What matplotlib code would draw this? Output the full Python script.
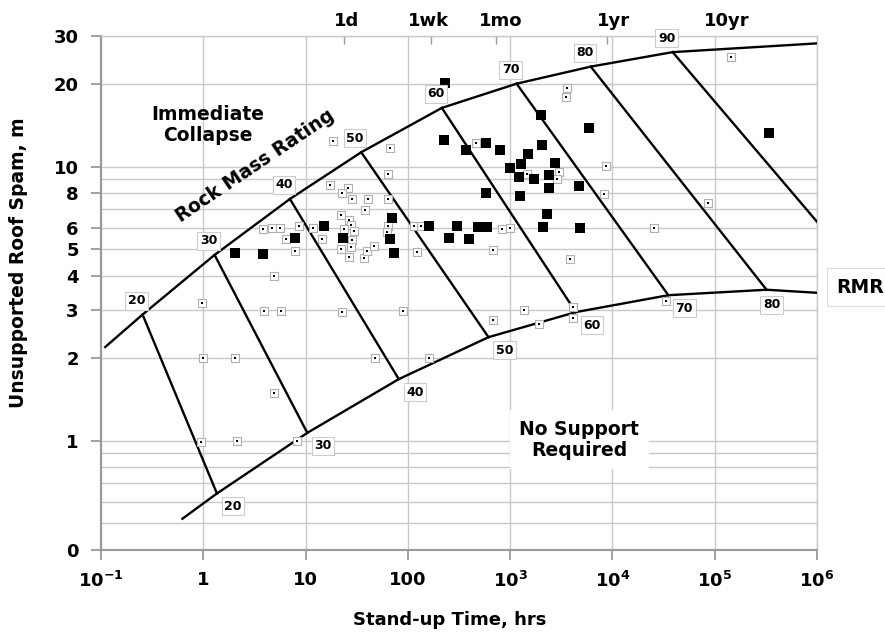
import matplotlib
matplotlib.use("Agg")
import matplotlib.pyplot as plt
from matplotlib.ticker import FixedLocator, NullFormatter, NullLocator

plt.rcParams['font.family'] = ['DejaVu Sans']
plt.rcParams['font.weight'] = 'bold'
plt.rcParams['axes.labelweight'] = 'bold'
plt.rcParams['mathtext.fontset'] = 'custom'
plt.rcParams['mathtext.rm'] = 'DejaVu Sans:bold'
plt.rcParams['mathtext.it'] = 'DejaVu Sans:bold'
plt.rcParams['mathtext.bf'] = 'DejaVu Sans:bold'

# --- data ---
rmr_values = [20, 30, 40, 50, 60, 70, 80, 90]
top_x = [0.255, 1.29, 7.03, 35, 215, 1156, 6140, 38800]
top_y = [2.89, 4.77, 7.63, 11.3, 16.4, 20.1, 23.2, 26.2]
bottom_x = [1.36, 10.4, 81.5, 614, 4385, 35200, 321000, 1e6]
bottom_y = [0.643, 1.07, 1.68, 2.39, 2.95, 3.40, 3.56, 6.3]   # 90 line runs out at the right edge

upper_x = [0.11] + top_x + [1e6]
upper_y = [2.2] + top_y + [28.2]
lower_x = [0.625] + bottom_x[:7] + [1e6]
lower_y = [0.52] + bottom_y[:7] + [3.47]

big_x = [229, 227, 577, 369, 791, 1982, 5865, 2046, 1503, 2735, 1276, 988, 1218,
         1710, 2395, 2410, 4755, 586, 1240, 2300, 2105, 4790, 160, 299, 480, 596,
         254, 392, 15.1, 7.8, 23.1, 2.05, 3.84, 69.7, 67.6, 73, 340000]
big_y = [20.3, 12.5, 12.2, 11.5, 11.5, 15.4, 13.9, 11.96, 11.1, 10.3, 10.2, 9.9, 9.15,
         9.0, 9.3, 8.34, 8.48, 8.02, 7.8, 6.75, 6.02, 6.0, 6.1, 6.1, 6.05, 6.02,
         5.52, 5.47, 6.1, 5.49, 5.49, 4.86, 4.81, 6.49, 5.44, 4.85, 13.3]

small_x = [18.7, 66.7, 64, 17.2, 26.2, 22.5, 28.2, 41, 63.7, 37.8, 22.2, 26.6, 28,
           23.8, 29.5, 28.2, 22.4, 27.6, 26.7, 37.3, 40.1, 46.9, 3.8, 4.7, 5.62, 8.67,
           11.9, 6.43, 14.6, 7.93, 4.87, 64, 62.7, 114, 135, 123, 0.97, 3.95, 5.75,
           22.9, 89.8, 1.0, 2.06, 4.94, 47.3, 160, 0.96, 2.12, 8.2, 686, 1374, 1923,
           4120, 4120, 33400, 143500, 3630, 3520, 466, 8590, 8200, 85000, 25500,
           2995, 2900, 1469, 840, 997, 683, 3830]
small_y = [12.4, 11.7, 9.38, 8.55, 8.37, 8.0, 7.65, 7.65, 7.65, 6.94, 6.69, 6.38, 6.14,
           5.94, 5.85, 5.41, 5.03, 5.08, 4.67, 4.64, 4.94, 5.12, 5.94, 5.97, 5.97, 6.09,
           5.97, 5.47, 5.47, 4.92, 3.98, 6.1, 5.8, 6.1, 6.1, 4.88, 3.18, 2.97, 2.97,
           2.95, 2.99, 2.0, 2.0, 1.49, 2.0, 2.0, 0.99, 1.0, 1.0, 2.77, 3.01, 2.67,
           2.81, 3.07, 3.23, 25.1, 19.4, 18.0, 12.2, 10.1, 7.96, 7.4, 6.0,
           9.59, 8.99, 9.45, 5.92, 6.0, 4.98, 4.6]

x_ticks = [0.1, 1, 10, 100, 1e3, 1e4, 1e5, 1e6]
x_labels = [r'$10^{-1}$', '1', '10', '100', r'$10^{3}$', r'$10^{4}$', r'$10^{5}$', r'$10^{6}$']
y_ticks = [0.4, 1, 2, 3, 4, 5, 6, 8, 10, 20, 30]
y_labels = ['0', '1', '2', '3', '4', '5', '6', '8', '10', '20', '30']
y_grid_minor = [0.5, 0.6, 0.7, 0.8, 0.9, 7, 9]
time_ticks = [24, 168, 720, 8760, 87600]
time_labels = ['1d', '1wk', '1mo', '1yr', '10yr']

fig = plt.figure(figsize=(8.85, 6.35), dpi=100, facecolor='w')
ax = fig.add_axes([0.1141, 0.1339, 0.8091, 0.8094])
ax.set_xscale('log')
ax.set_yscale('log')
ax.set_xlim(0.1, 1e6)
ax.set_ylim(0.4, 30)

grid_c = '#c8c8c8'
ax.xaxis.set_major_locator(FixedLocator(x_ticks))
ax.xaxis.set_minor_locator(NullLocator())
ax.set_xticklabels(x_labels)
ax.yaxis.set_major_locator(FixedLocator(y_ticks))
ax.yaxis.set_minor_locator(FixedLocator(y_grid_minor))
ax.yaxis.set_minor_formatter(NullFormatter())
ax.set_yticklabels(y_labels)
ax.grid(True, which='major', color=grid_c, lw=1)
ax.grid(True, which='minor', axis='y', color=grid_c, lw=1)
ax.tick_params(axis='both', which='major', labelsize=13, length=7, width=1.3,
               color='#999999', direction='out')
ax.tick_params(axis='x', pad=8)
ax.tick_params(axis='y', pad=9)
ax.tick_params(axis='y', which='minor', length=0)
for side in ['left', 'bottom']:
    ax.spines[side].set_color('#999999')
    ax.spines[side].set_linewidth(1.5)
for side in ['top', 'right']:
    ax.spines[side].set_color(grid_c)
    ax.spines[side].set_linewidth(1)

ax.set_xlabel('Stand-up Time, hrs', fontsize=13)
ax.set_ylabel('Unsupported Roof Spam, m', fontsize=13.5)
ax.xaxis.set_label_coords(0.487, -0.119)
ax.yaxis.set_label_coords(-0.102, 0.558)

# top axis: small inward marks, labels sit a little right of them
top = ax.secondary_xaxis('top')
top.set_xticks(time_ticks[:4])
top.xaxis.set_minor_locator(NullLocator())
top.tick_params(direction='in', length=6, width=1, color='#999999', labelsize=0)
top.set_xticklabels([])
top.spines['top'].set_visible(False)
label_shift = [2, -2, 5, 7, 18]
for t, lab, dx in zip(time_ticks, time_labels, label_shift):
    ax.annotate(lab, (t, 1.0), xycoords=('data', 'axes fraction'), xytext=(dx, 15),
                textcoords='offset pixels', ha='center', va='center', fontsize=13)

# boundary curves and RMR lines
ax.plot(upper_x, upper_y, color='black', lw=1.7, zorder=3)
ax.plot(lower_x, lower_y, color='black', lw=1.7, zorder=3)
for i, r in enumerate(rmr_values):
    ax.plot([top_x[i], bottom_x[i]], [top_y[i], bottom_y[i]], color='black', lw=1.7, zorder=3)

box = dict(boxstyle='square,pad=0.2', fc='white', ec='#cccccc', lw=0.8)
for i, r in enumerate(rmr_values):
    ax.annotate(str(r), (top_x[i], top_y[i]), xytext=(-6, 14), textcoords='offset pixels',
                ha='center', va='center', fontsize=9, bbox=box, zorder=5)
    if r < 90:
        ax.annotate(str(r), (bottom_x[i], bottom_y[i]), xytext=(16, -13) if r < 80 else (5, -15),
                    textcoords='offset pixels', ha='center', va='center', fontsize=9,
                    bbox=box, zorder=5)

# data points
ax.scatter(small_x, small_y, marker='s', s=32, facecolor='white', edgecolor='#b0b0b0',
           lw=0.8, zorder=4)
ax.scatter(small_x, small_y, marker='s', s=4, color='black', lw=0, zorder=4)
ax.scatter(big_x, big_y, marker='s', s=62, color='black', lw=0, zorder=4)

ax.text(0.149, 0.827, 'Immediate\nCollapse', transform=ax.transAxes, ha='center',
        va='center', fontsize=13.5, linespacing=1.15)
ax.text(0.215, 0.747, 'Rock Mass Rating', transform=ax.transAxes, ha='center',
        va='center', fontsize=13.5, rotation=34)
ax.text(0.668, 0.214, 'No Support\nRequired', transform=ax.transAxes, ha='center',
        va='center', fontsize=13.5, linespacing=1.15,
        bbox=dict(boxstyle='square,pad=0.5', fc='white', ec='none'), zorder=2)
fig.text(0.972, 0.548, 'RMR', ha='center', va='center', fontsize=13.5,
         bbox=dict(boxstyle='square,pad=0.5', fc='white', ec='#dddddd', lw=0.8))

fig.savefig('out.png', dpi=100)
